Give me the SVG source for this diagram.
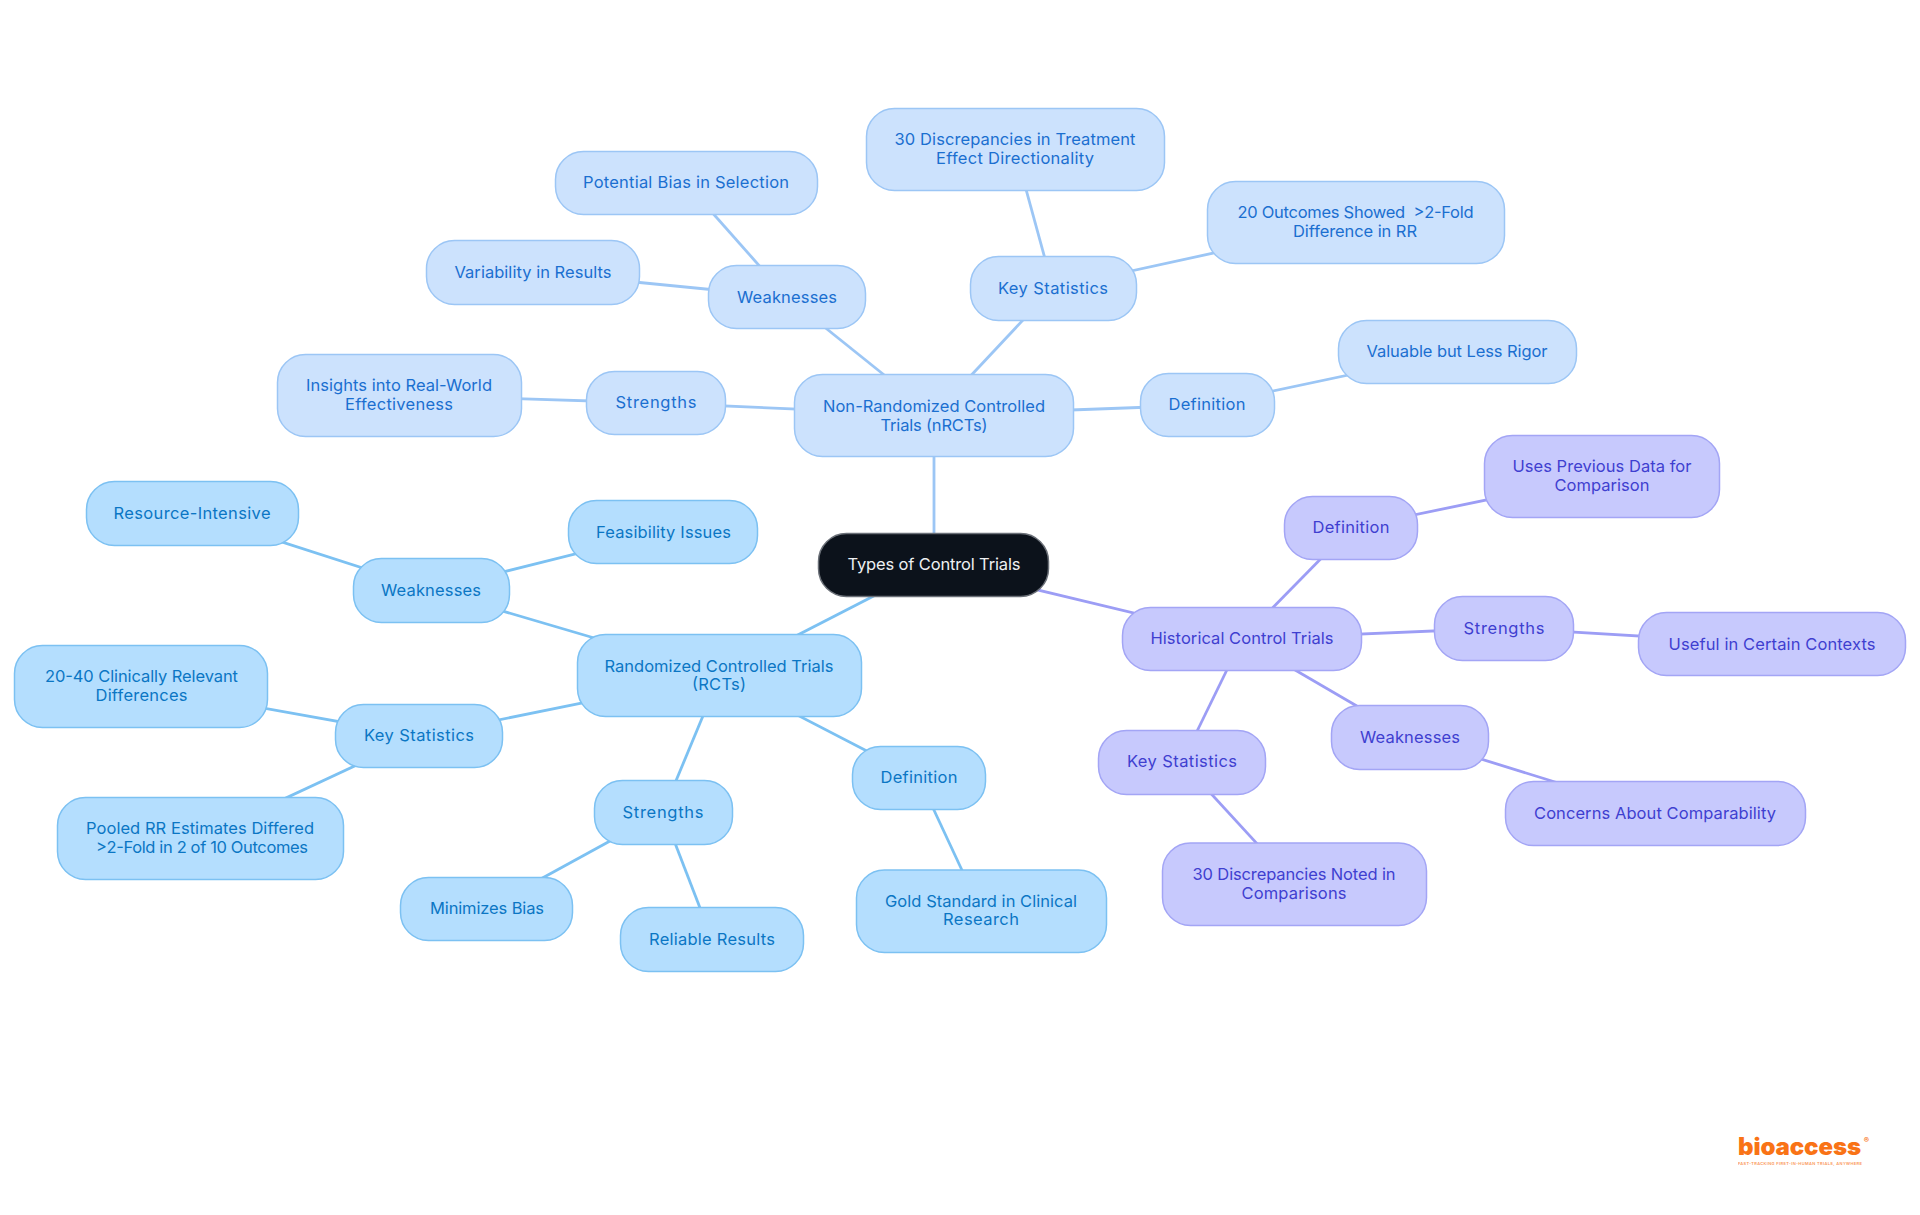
<svg xmlns="http://www.w3.org/2000/svg" width="1920" height="1215" viewBox="0 0 1920 1215">
<style>
text{font-family:Inter,"Noto Sans","Liberation Sans",sans-serif;font-size:16.5px;text-anchor:middle;font-weight:385}
rect{stroke-width:1.5}
.r rect{fill:#0c121b;stroke:#6b7078}.r text{fill:#eef0f2}
.n rect{fill:#cce2fd;stroke:#9cc6f5}.n text{fill:#1b6fd0}
.c rect{fill:#b4defe;stroke:#7cc1f2}.c text{fill:#0b76c4}
.h rect{fill:#c7c9fd;stroke:#a3a5f5}.h text{fill:#3f3fd0}
#connectors line{stroke-width:2.8;fill:none}
.ln{stroke:#9cc6f5}.lc{stroke:#7cc1f2}.lh{stroke:#9c9df5}
</style>
<rect width="1920" height="1215" fill="#fff" style="stroke:none"/>
<g id="connectors">
<line class="ln" x1="934" y1="565" x2="934" y2="415"/>
<line class="lc" x1="934" y1="565" x2="720" y2="675"/>
<line class="lh" x1="934" y1="565" x2="1242" y2="639"/>
<line class="ln" x1="934" y1="415" x2="1053" y2="288"/>
<line class="ln" x1="934" y1="415" x2="787" y2="297"/>
<line class="ln" x1="934" y1="415" x2="1207" y2="405"/>
<line class="ln" x1="934" y1="415" x2="656" y2="403"/>
<line class="ln" x1="1053" y1="288" x2="1015" y2="149"/>
<line class="ln" x1="1053" y1="288" x2="1356" y2="222"/>
<line class="ln" x1="787" y1="297" x2="686" y2="183"/>
<line class="ln" x1="787" y1="297" x2="533" y2="272"/>
<line class="ln" x1="1207" y1="405" x2="1457" y2="352"/>
<line class="ln" x1="656" y1="403" x2="400" y2="395"/>
<line class="lc" x1="720" y1="675" x2="431" y2="590"/>
<line class="lc" x1="720" y1="675" x2="419" y2="736"/>
<line class="lc" x1="720" y1="675" x2="663" y2="812"/>
<line class="lc" x1="720" y1="675" x2="919" y2="778"/>
<line class="lc" x1="431" y1="590" x2="192" y2="513"/>
<line class="lc" x1="431" y1="590" x2="663" y2="532"/>
<line class="lc" x1="419" y1="736" x2="141" y2="686"/>
<line class="lc" x1="419" y1="736" x2="200" y2="838"/>
<line class="lc" x1="663" y1="812" x2="486" y2="909"/>
<line class="lc" x1="663" y1="812" x2="712" y2="939"/>
<line class="lc" x1="919" y1="778" x2="981" y2="911"/>
<line class="lh" x1="1242" y1="639" x2="1351" y2="528"/>
<line class="lh" x1="1242" y1="639" x2="1504" y2="628"/>
<line class="lh" x1="1242" y1="639" x2="1410" y2="737"/>
<line class="lh" x1="1242" y1="639" x2="1182" y2="762"/>
<line class="lh" x1="1351" y1="528" x2="1602" y2="476"/>
<line class="lh" x1="1504" y1="628" x2="1772" y2="644"/>
<line class="lh" x1="1410" y1="737" x2="1655" y2="813"/>
<line class="lh" x1="1182" y1="762" x2="1294" y2="884"/>
</g>
<g id="root" class="r"><rect x="818.5" y="533.5" width="230" height="63" rx="28"/><text x="934" y="570" textLength="173">Types of Control Trials</text></g>
<g id="nrct" class="n"><rect x="794.5" y="374.5" width="279" height="82" rx="28"/><text x="934" y="412" textLength="222">Non-Randomized Controlled</text><text x="934" y="430.5" textLength="107">Trials (nRCTs)</text></g>
<g id="n-bias" class="n"><rect x="555.5" y="151.5" width="262" height="63" rx="28"/><text x="686" y="188" textLength="206">Potential Bias in Selection</text></g>
<g id="n-disc" class="n"><rect x="866.5" y="108.5" width="298" height="82" rx="28"/><text x="1015" y="145" textLength="241">30 Discrepancies in Treatment</text><text x="1015" y="163.5" textLength="158">Effect Directionality</text></g>
<g id="n-out" class="n"><rect x="1207.5" y="181.5" width="297" height="82" rx="28"/><text x="1355.5" y="218" textLength="236" xml:space="preserve">20 Outcomes Showed  &gt;2-Fold</text><text x="1355" y="236.5" textLength="124">Difference in RR</text></g>
<g id="n-key" class="n"><rect x="970.5" y="256.5" width="166" height="64" rx="28"/><text x="1053" y="293.5" textLength="110">Key Statistics</text></g>
<g id="n-weak" class="n"><rect x="708.5" y="265.5" width="157" height="63" rx="28"/><text x="787" y="302.5" textLength="100">Weaknesses</text></g>
<g id="n-var" class="n"><rect x="426.5" y="240.5" width="213" height="64" rx="28"/><text x="533" y="277.5" textLength="157">Variability in Results</text></g>
<g id="n-val" class="n"><rect x="1338.5" y="320.5" width="238" height="63" rx="28"/><text x="1457" y="357" textLength="181">Valuable but Less Rigor</text></g>
<g id="n-def" class="n"><rect x="1140.5" y="373.5" width="134" height="63" rx="28"/><text x="1207" y="410" textLength="77">Definition</text></g>
<g id="n-str" class="n"><rect x="586.5" y="371.5" width="139" height="63" rx="28"/><text x="656" y="408" textLength="81">Strengths</text></g>
<g id="n-ins" class="n"><rect x="277.5" y="354.5" width="244" height="82" rx="28"/><text x="399" y="391" textLength="186">Insights into Real-World</text><text x="399" y="409.5" textLength="108">Effectiveness</text></g>
<g id="rct" class="c"><rect x="577.5" y="634.5" width="284" height="82" rx="28"/><text x="719" y="671.5" textLength="229">Randomized Controlled Trials</text><text x="719" y="689.5" textLength="54">(RCTs)</text></g>
<g id="c-res" class="c"><rect x="86.5" y="481.5" width="212" height="64" rx="28"/><text x="192" y="518.5" textLength="157">Resource-Intensive</text></g>
<g id="c-fea" class="c"><rect x="568.5" y="500.5" width="189" height="63" rx="28"/><text x="663.5" y="537.5" textLength="135">Feasibility Issues</text></g>
<g id="c-weak" class="c"><rect x="353.5" y="558.5" width="156" height="64" rx="28"/><text x="431" y="596" textLength="100">Weaknesses</text></g>
<g id="c-2040" class="c"><rect x="14.5" y="645.5" width="253" height="82" rx="28"/><text x="141.5" y="682" textLength="193">20-40 Clinically Relevant</text><text x="141.5" y="701" textLength="92">Differences</text></g>
<g id="c-key" class="c"><rect x="335.5" y="704.5" width="167" height="63" rx="28"/><text x="419" y="741" textLength="110">Key Statistics</text></g>
<g id="c-pool" class="c"><rect x="57.5" y="797.5" width="286" height="82" rx="28"/><text x="200" y="834" textLength="228">Pooled RR Estimates Differed</text><text x="202" y="852.5" textLength="212">&gt;2-Fold in 2 of 10 Outcomes</text></g>
<g id="c-str" class="c"><rect x="594.5" y="780.5" width="138" height="64" rx="28"/><text x="663" y="817.5" textLength="81">Strengths</text></g>
<g id="c-def" class="c"><rect x="852.5" y="746.5" width="133" height="63" rx="28"/><text x="919" y="783" textLength="77">Definition</text></g>
<g id="c-min" class="c"><rect x="400.5" y="877.5" width="172" height="63" rx="28"/><text x="487" y="914" textLength="114">Minimizes Bias</text></g>
<g id="c-rel" class="c"><rect x="620.5" y="907.5" width="183" height="64" rx="28"/><text x="712" y="944.5" textLength="126">Reliable Results</text></g>
<g id="c-gold" class="c"><rect x="856.5" y="870" width="250" height="82.5" rx="28"/><text x="981" y="906.5" textLength="192">Gold Standard in Clinical</text><text x="981" y="925" textLength="76">Research</text></g>
<g id="hist" class="h"><rect x="1122.5" y="607.5" width="239" height="63" rx="28"/><text x="1242" y="644" textLength="183">Historical Control Trials</text></g>
<g id="h-def" class="h"><rect x="1284.5" y="496.5" width="133" height="63" rx="28"/><text x="1351" y="533" textLength="77">Definition</text></g>
<g id="h-use" class="h"><rect x="1484.5" y="435.5" width="235" height="82" rx="28"/><text x="1602" y="472" textLength="179">Uses Previous Data for</text><text x="1602" y="490.5" textLength="95">Comparison</text></g>
<g id="h-str" class="h"><rect x="1434.5" y="596.5" width="139" height="64" rx="28"/><text x="1504" y="633.5" textLength="81">Strengths</text></g>
<g id="h-useful" class="h"><rect x="1638.5" y="612.5" width="267" height="63" rx="28"/><text x="1772" y="649.5" textLength="207">Useful in Certain Contexts</text></g>
<g id="h-weak" class="h"><rect x="1331.5" y="705.5" width="157" height="64" rx="28"/><text x="1410" y="742.5" textLength="100">Weaknesses</text></g>
<g id="h-con" class="h"><rect x="1505.5" y="781.5" width="300" height="64" rx="28"/><text x="1655" y="818.5" textLength="242">Concerns About Comparability</text></g>
<g id="h-key" class="h"><rect x="1098.5" y="730.5" width="167" height="64" rx="28"/><text x="1182" y="766.5" textLength="110">Key Statistics</text></g>
<g id="h-disc" class="h"><rect x="1162.5" y="843" width="264" height="82.5" rx="28"/><text x="1294" y="880" textLength="203">30 Discrepancies Noted in</text><text x="1294" y="898.5" textLength="105">Comparisons</text></g>
<g id="logo" fill="#f97316">
<text x="1738" y="1155" textLength="123" style="font-size:24px;font-weight:900;text-anchor:start">bioaccess</text>
<text x="1866.5" y="1143" style="font-size:8px;font-weight:700">®</text>
<text x="1738" y="1164.5" textLength="124" style="font-size:4px;font-weight:600;text-anchor:start;opacity:.75">FAST-TRACKING FIRST-IN-HUMAN TRIALS, ANYWHERE</text>
</g>
</svg>
